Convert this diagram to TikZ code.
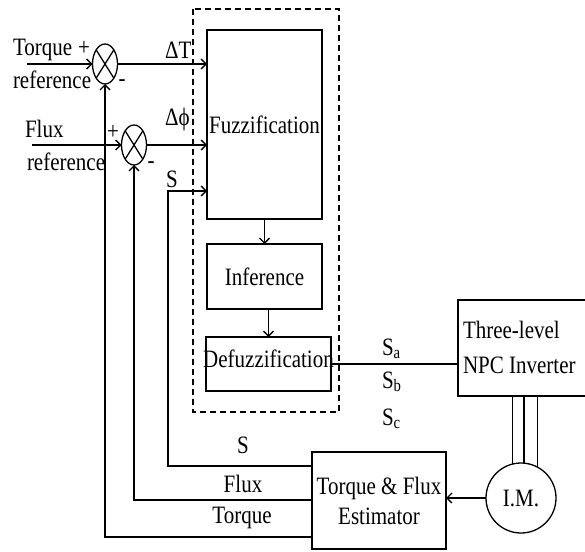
\documentclass[tikz,border=0pt]{standalone}
\usepackage{fontspec}
\setmainfont{Liberation Serif}[FakeStretch=0.84]
\usetikzlibrary{arrows.meta,shapes.geometric,calc}
\begin{document}
\begin{tikzpicture}[x=1pt,y=-1pt,line width=1.3pt,
  font=\fontsize{25}{30}\selectfont,
  blk/.style={draw,inner sep=0pt,outer sep=0pt},
  arr/.style={-{Straight Barb[length=5pt,width=10pt,line width=1.3pt]}},
  sumj/.style={draw,ellipse,minimum width=25pt,minimum height=40pt,inner sep=0pt,outer sep=0pt},
  lbl/.style={inner sep=0pt,outer sep=0pt}]
\useasboundingbox (0,0) rectangle (585,551);
\clip (0,0) rectangle (585,551);
% dashed fuzzy controller frame
\draw[line width=1.1pt,dash pattern=on 6pt off 4pt] (193,9) rectangle (339,412);
% blocks
\node[blk,minimum width=115pt,minimum height=189pt] (fuzz) at (264.5,124.5) {Fuzzification};
\node[blk,minimum width=115pt,minimum height=65pt] (inf) at (264.5,276.5) {Inference};
\node[blk,minimum width=125pt,minimum height=54pt] (defuzz) at (268.5,364) {};
\node[lbl,anchor=base] (defuzzt) at (268.5,367) {Defuzzification};
\node[blk,minimum width=129pt,minimum height=96pt] (inv) at (522.5,348) {};
\node[lbl,anchor=base west] (invt1) at (463,338) {Three-level};
\node[lbl,anchor=base west] (invt2) at (463,373) {NPC Inverter};
\node[blk,minimum width=134pt,minimum height=97pt,align=center] (est) at (379,500.5) {Torque \& Flux\\Estimator};
\node[draw,circle,minimum size=70pt,inner sep=0pt,outer sep=0pt] (im) at (521,498) {I.M.};
% summing junctions
\node[sumj] (tj) at (105,64) {};
\node[sumj] (fj) at (134,145) {};
\draw (tj.north west) -- (tj.south east) (tj.north east) -- (tj.south west);
\draw (fj.north west) -- (fj.south east) (fj.north east) -- (fj.south west);
% coordinates
\coordinate (tin) at (27,64);
\coordinate (fin) at (32,145);
\coordinate (sc) at (168,191);
\coordinate (sb) at (168,466);
\coordinate (fb) at (0,500);
\coordinate (tb) at (0,537);
% connectors
\draw[arr] (tin) -- (tj.west);
\draw[arr] (fin) -- (fj.west);
\draw[arr] (tj.east) -- (tj.east -| fuzz.west);
\draw[arr] (fj.east) -- (fj.east -| fuzz.west);
\draw[arr] (est.west |- sb) -| (sc) -- (sc -| fuzz.west);
\draw[arr] (est.west |- fb) -| (fj.south);
\draw[arr] (est.west |- tb) -| (tj.south);
\draw[arr] (fuzz.south) -- (inf.north);
\draw[arr] (inf.south -| defuzz.north) -- (defuzz.north);
\draw (defuzz.east) -- (defuzz.east -| inv.west);
\draw[arr] (im.west) -- (im.west -| est.east);
\draw (im.104.9) -- (im.104.9 |- inv.south);
\draw (im.85.1) -- (im.85.1 |- inv.south);
\draw (im.62.8) -- (im.62.8 |- inv.south);
% labels
\node[lbl,anchor=base west] (ltq) at (13,56) {Torque};
\node[lbl,anchor=base west] (ltr) at (13,88) {reference};
\node[lbl,anchor=base west] (lfx) at (25,137) {Flux};
\node[lbl,anchor=base west] (lfr) at (27,170) {reference};
\node[lbl] (tp) at (84,48) {+};
\node[lbl] (tm) at (122,83) {-};
\node[lbl] (fp) at (113,132) {+};
\node[lbl] (fm) at (151,165) {-};
\node[lbl,anchor=base west] (ldt) at (165,58) {ΔT};
\node[lbl,anchor=base west] (ldf) at (165,125) {Δϕ};
\node[lbl,anchor=base west] (ls) at (166,187) {S};
\node[lbl,anchor=base west] (lsa) at (382,355) {S\textsubscript{a}};
\node[lbl,anchor=base west] (lsb) at (382,388) {S\textsubscript{b}};
\node[lbl,anchor=base west] (lsc) at (382,425) {S\textsubscript{c}};
\node[lbl,anchor=base] (lbs) at (243,453) {S};
\node[lbl,anchor=base] (lbf) at (243,492) {Flux};
\node[lbl,anchor=base] (lbt) at (242,523) {Torque};
\end{tikzpicture}
\end{document}
